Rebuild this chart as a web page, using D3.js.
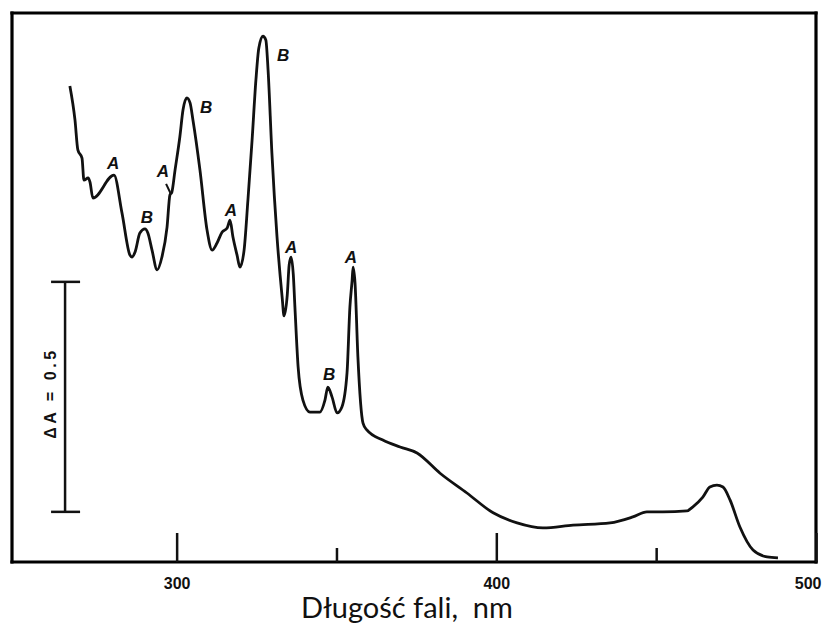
<!DOCTYPE html>
<html>
  <head>
    <title>Widmo absorpcji</title>
    <script src="https://d3js.org/d3.v7.min.js"></script>
    <style>
      body {
        margin: 0;
        background-color: white;
        overflow: hidden;
      }
      svg {
        display: block;
      }
    </style>
  </head>
  <body>
    <script>
      const w = 822;
      const h = 624;

      // wavelength (nm) and absorbance
      const wavelength = [
        266.6, 268.2, 269.1, 270.4, 271.0, 272.3, 272.9, 273.8, 280.4, 282.9,
        285.4, 286.0, 287.0, 288.5, 290.1, 291.0, 292.3, 293.9, 295.4, 297.0,
        297.9, 298.5, 299.5, 301.0, 302.0, 303.2, 304.2, 305.1, 307.3, 309.5,
        311.1, 312.6, 314.2, 315.8, 316.7, 317.6, 318.9, 319.8, 321.1, 322.3,
        323.6, 324.8, 325.7, 327.0, 327.9, 328.6, 329.8, 331.4, 333.0, 333.6,
        334.6, 335.2, 335.8, 336.5, 337.0, 338.0, 339.5, 341.7, 344.8, 346.4,
        347.3, 348.6, 350.2, 351.7, 353.3, 354.2, 354.9, 355.2, 355.8, 356.7,
        358.3, 359.5, 364.5, 369.9, 375.2, 382.4, 390.8, 399.0, 406.5, 414.6,
        424.0, 435.6, 442.7, 447.1, 452.1, 459.6, 461.5, 464.6, 466.8, 469.0,
        470.9, 473.1, 476.2, 480.3, 484.7, 488.1
      ];
      const absorbance = [
        1.035, 0.961, 0.896, 0.878, 0.830, 0.835, 0.826, 0.791, 0.841, 0.759,
        0.667, 0.663, 0.674, 0.715, 0.724, 0.715, 0.678, 0.635, 0.663, 0.728,
        0.798, 0.804, 0.852, 0.924, 0.983, 1.009, 0.998, 0.961, 0.852, 0.722,
        0.678, 0.693, 0.717, 0.726, 0.743, 0.707, 0.667, 0.641, 0.678, 0.787,
        0.917, 1.048, 1.117, 1.143, 1.135, 1.070, 0.889, 0.707, 0.576, 0.535,
        0.580, 0.646, 0.663, 0.624, 0.554, 0.424, 0.352, 0.326, 0.326, 0.352,
        0.380, 0.359, 0.324, 0.337, 0.411, 0.554, 0.613, 0.641, 0.607, 0.446,
        0.302, 0.287, 0.265, 0.250, 0.237, 0.193, 0.150, 0.107, 0.085, 0.074,
        0.080, 0.085, 0.098, 0.109, 0.109, 0.111, 0.120, 0.141, 0.163, 0.167,
        0.163, 0.135, 0.076, 0.026, 0.011, 0.009
      ];

      // band labels (A / B) placed next to the peaks
      const bandText = ['A', 'B', 'A', 'B', 'A', 'B', 'A', 'B', 'A'];
      const bandNm = [280.1, 290.7, 295.7, 309.2, 317.0, 333.3, 335.8, 347.7, 354.5];
      const bandAbs = [0.867, 0.748, 0.848, 0.989, 0.765, 1.102, 0.683, 0.407, 0.663];

      const majorTicks = [300, 400, 500];
      const minorTicks = [350, 450];
      const scaleBar = { nm: 265.1, from: 0.109, to: 0.609, label: 'ΔA = 0.5' };

      const margin = { left: 12, right: 6, top: 13, bottom: 62 };

      const x = d3.scaleLinear()
                  .domain([248.5, 500])
                  .range([margin.left, w - margin.right]);
      const y = d3.scaleLinear()
                  .domain([0, 1.1935])
                  .range([h - margin.bottom, margin.top]);

      const svg = d3.select('body')
                    .append('svg')
                    .attr('width', w)
                    .attr('height', h);

      const yBottom = h - margin.bottom;

      // frame: four sides
      const [x0, x1] = x.range();
      const [y0, y1] = y.range();
      const sides = [
        [x0, y0, x0, y1],
        [x0, y1, x1, y1],
        [x1, y1, x1, y0],
        [x1, y0, x0, y0]
      ];
      svg.selectAll('.frame')
         .data(sides)
         .enter()
         .append('line')
         .attr('class', 'frame')
         .attr('x1', d => d[0])
         .attr('y1', d => d[1])
         .attr('x2', d => d[2])
         .attr('y2', d => d[3])
         .attr('stroke', '#000')
         .attr('stroke-width', 3.2)
         .attr('stroke-linecap', 'square');

      // ticks pointing into the plot
      const majorAxis = d3.axisBottom(x)
                          .tickValues(majorTicks)
                          .tickSizeInner(-29)
                          .tickSizeOuter(0)
                          .tickPadding(16)
                          .tickFormat(d3.format('d'));
      const gMajor = svg.append('g')
                        .attr('transform', `translate(0,${yBottom})`)
                        .call(majorAxis);
      gMajor.select('.domain').remove();
      gMajor.selectAll('line').attr('stroke', '#111').attr('stroke-width', 2.5);
      gMajor.selectAll('text')
            .attr('fill', '#111')
            .style('font-family', '"Liberation Sans", Arial, sans-serif')
            .style('font-weight', 'bold')
            .style('font-size', '16px')
            .attr('text-anchor', d => d === 500 ? 'end' : 'middle')
            .attr('x', d => d === 500 ? w - x(500) - 1 : 0);

      const minorAxis = d3.axisBottom(x)
                          .tickValues(minorTicks)
                          .tickSizeInner(-14)
                          .tickSizeOuter(0)
                          .tickFormat('');
      const gMinor = svg.append('g')
                        .attr('transform', `translate(0,${yBottom})`)
                        .call(minorAxis);
      gMinor.select('.domain').remove();
      gMinor.selectAll('line').attr('stroke', '#111').attr('stroke-width', 2.5);

      // spectrum
      const points = wavelength.map((d, i) => [d, absorbance[i]]);
      const line = d3.line()
                     .x(d => x(d[0]))
                     .y(d => y(d[1]))
                     .curve(d3.curveMonotoneX);

      svg.append('path')
         .datum(points)
         .attr('d', line)
         .attr('fill', 'none')
         .attr('stroke', '#111')
         .attr('stroke-width', 2.8)
         .attr('stroke-linejoin', 'round');

      // band letters
      svg.selectAll('.band')
         .data(bandText)
         .enter()
         .append('text')
         .attr('class', 'band')
         .attr('x', (d, i) => x(bandNm[i]))
         .attr('y', (d, i) => y(bandAbs[i]))
         .attr('text-anchor', 'middle')
         .attr('dominant-baseline', 'central')
         .style('font-family', '"Liberation Sans", Arial, sans-serif')
         .style('font-weight', 'bold')
         .style('font-style', 'italic')
         .style('font-size', '17px')
         .attr('fill', '#111')
         .text(d => d);

      // little pointer under the shoulder label
      svg.append('line')
         .attr('x1', x(296.7))
         .attr('y1', y(0.822))
         .attr('x2', x(298.2))
         .attr('y2', y(0.800))
         .attr('stroke', '#111')
         .attr('stroke-width', 2);

      // delta A scale bar
      const bar = svg.append('g');
      bar.append('line')
         .attr('x1', x(scaleBar.nm)).attr('x2', x(scaleBar.nm))
         .attr('y1', y(scaleBar.to)).attr('y2', y(scaleBar.from));
      bar.selectAll('.cap')
         .data([scaleBar.from, scaleBar.to])
         .enter()
         .append('line')
         .attr('x1', x(scaleBar.nm) - 14)
         .attr('x2', x(scaleBar.nm) + 15)
         .attr('y1', d => y(d))
         .attr('y2', d => y(d));
      bar.selectAll('line')
         .attr('stroke', '#111')
         .attr('stroke-width', 2.5);

      const midA = (scaleBar.from + scaleBar.to) / 2;
      bar.append('text')
         .attr('transform', `translate(${x(scaleBar.nm) - 15},${y(midA) - 2}) rotate(-90)`)
         .attr('text-anchor', 'middle')
         .attr('dominant-baseline', 'central')
         .attr('textLength', 88)
         .attr('lengthAdjust', 'spacing')
         .style('font-family', '"Liberation Sans", Arial, sans-serif')
         .style('font-weight', 'bold')
         .style('font-size', '16px')
         .attr('fill', '#111')
         .text(scaleBar.label);

      // axis title
      svg.append('text')
         .attr('x', 407)
         .attr('y', 618)
         .attr('text-anchor', 'middle')
         .style('font-family', 'Lato, "Open Sans", sans-serif')
         .style('font-size', '29px')
         .style('white-space', 'pre')
         .attr('fill', '#111')
         .text('Długość fali,  nm');
    </script>
  </body>
</html>
